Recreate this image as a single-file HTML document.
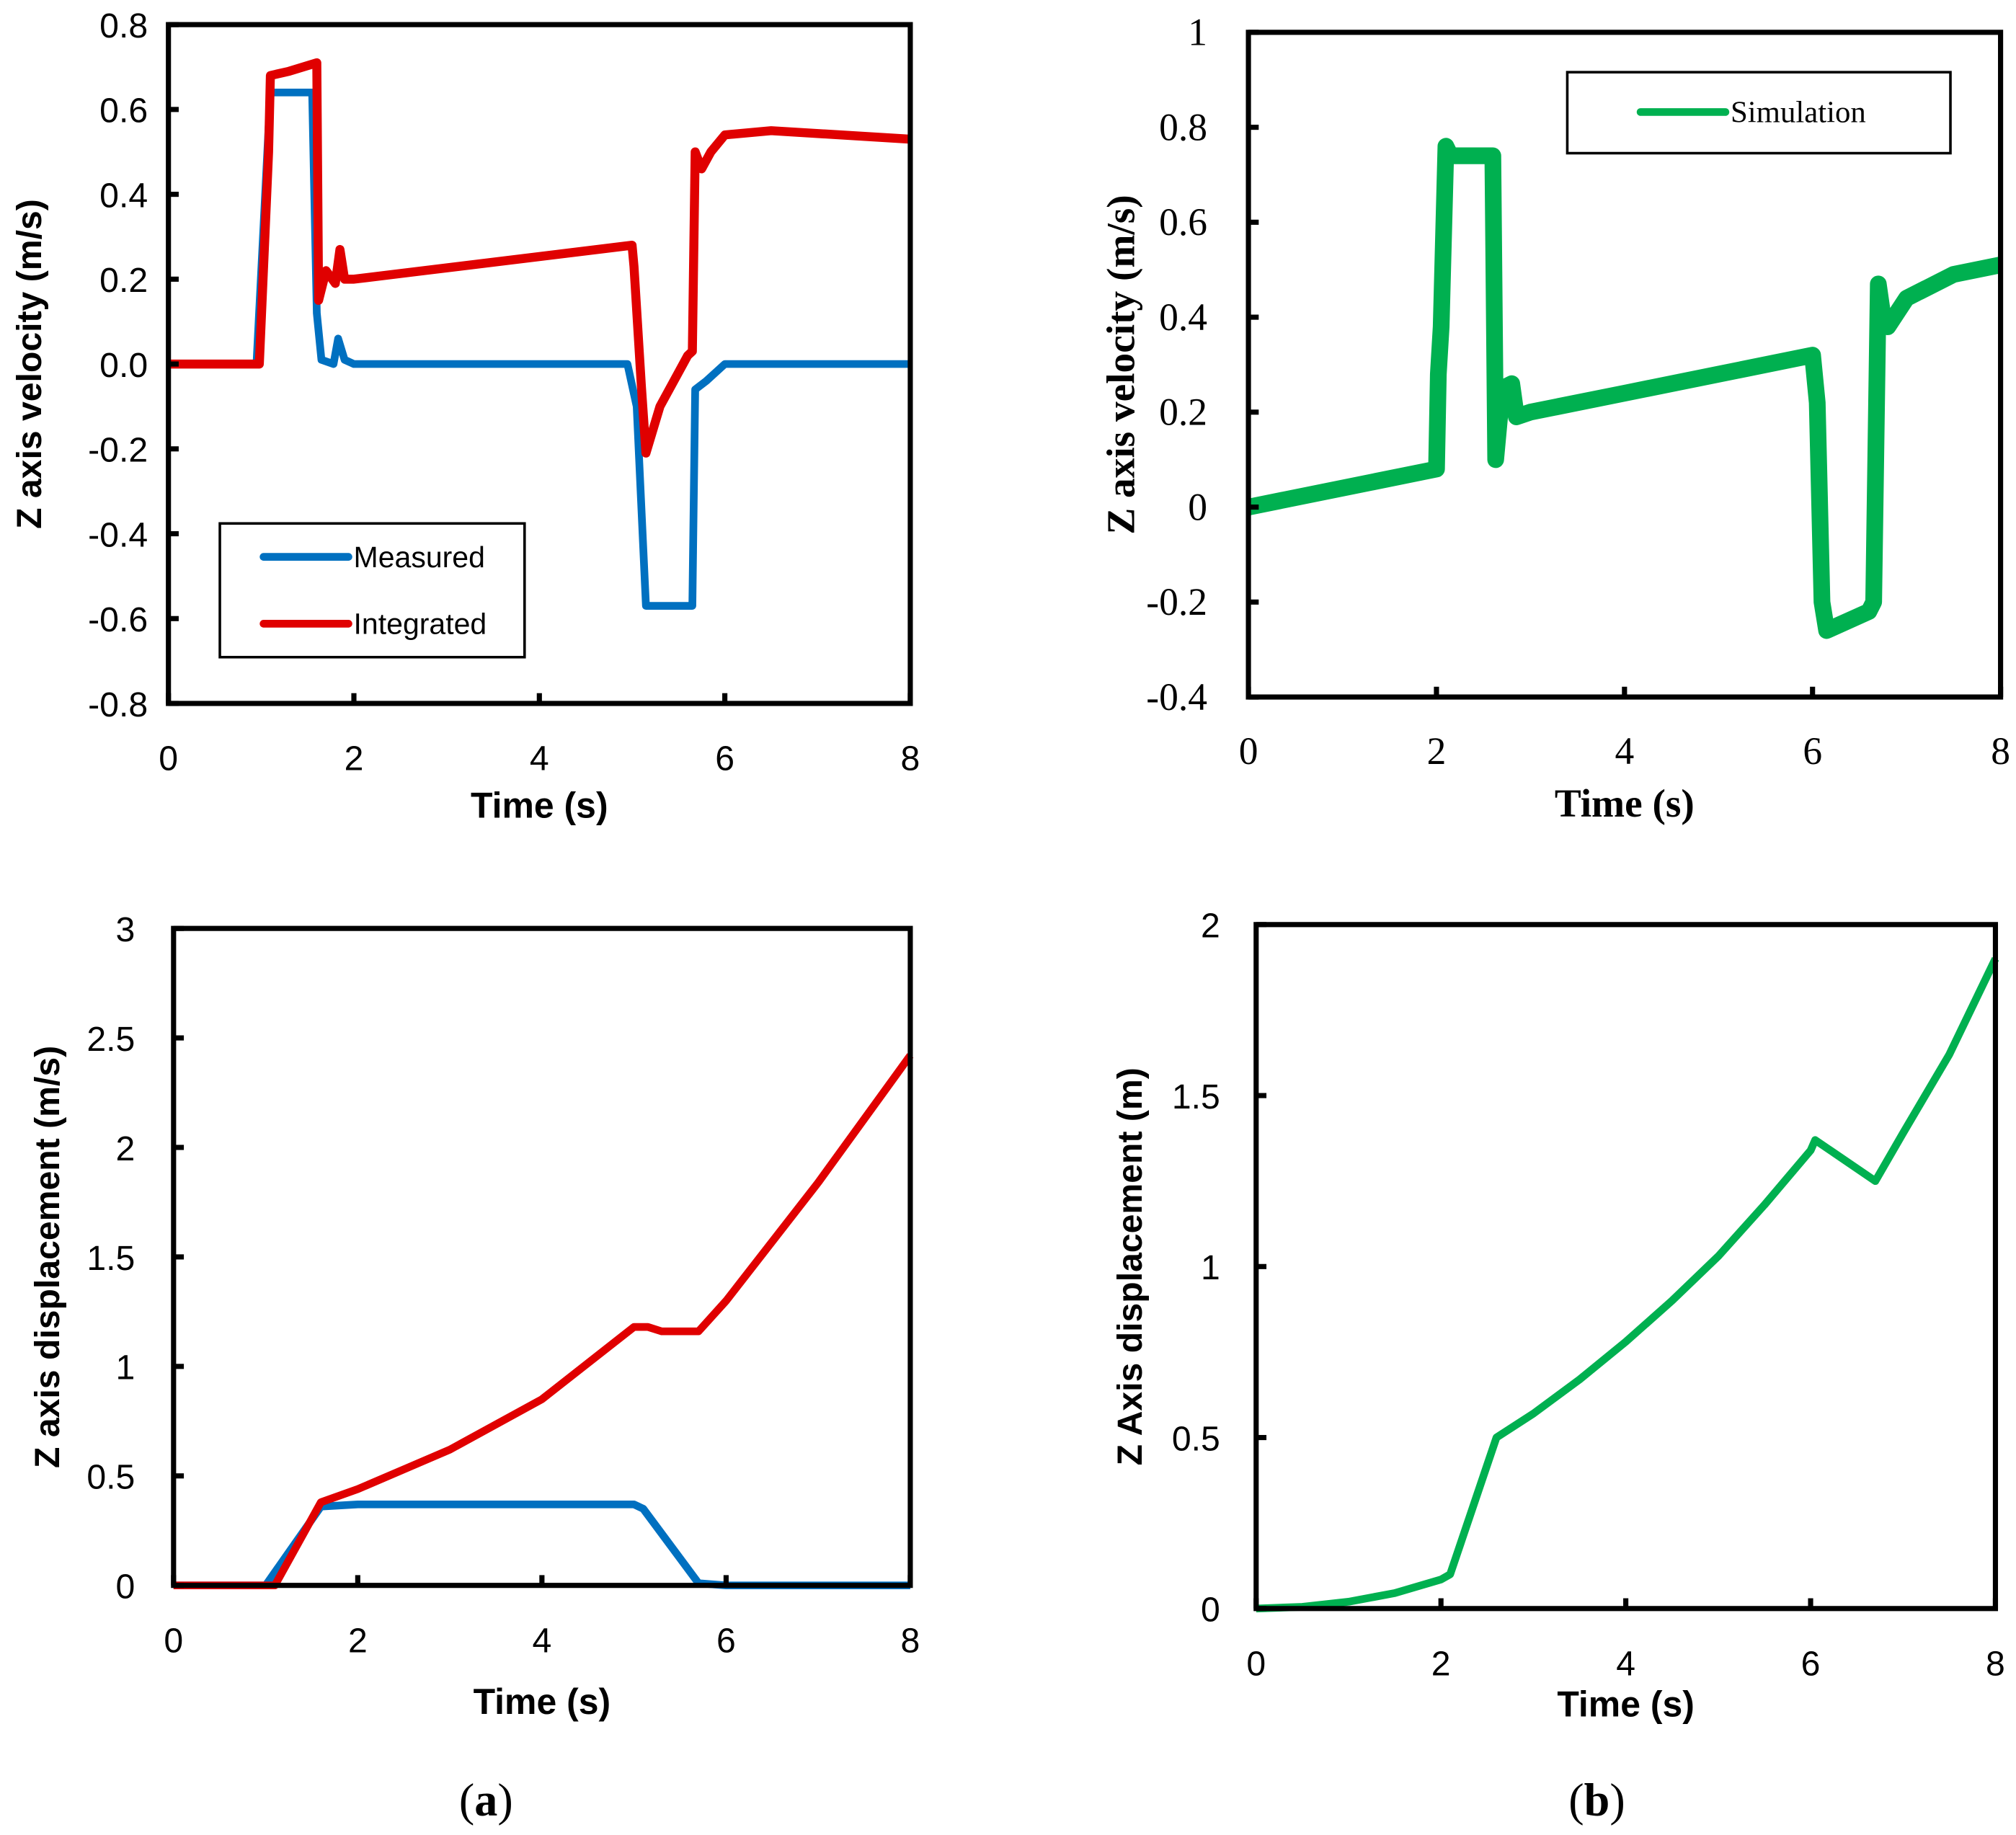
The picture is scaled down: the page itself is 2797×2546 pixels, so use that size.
<!DOCTYPE html>
<html><head><meta charset="utf-8"><style>
html,body{margin:0;padding:0;background:#fff;}
svg{display:block;}
</style></head><body>
<svg id="fig" width="2797" height="2546" viewBox="0 0 1568 1427" xmlns="http://www.w3.org/2000/svg"></svg>
<script>
// ---- data ----
const velMeasT=[0,0.95,1.1,1.55,1.6,1.65,1.78,1.83,1.9,2,4.95,5.05,5.15,5.45,5.65,5.68,5.8,6,8];
const velMeasV=[0,0,0.64,0.64,0.12,0.01,0,0.06,0.01,0,0,-0.1,-0.57,-0.57,-0.57,-0.06,-0.04,0,0];
const velIntT=[0,0.98,1.08,1.1,1.3,1.6,1.62,1.7,1.8,1.85,1.9,2,5,5.02,5.1,5.15,5.3,5.6,5.65,5.68,5.75,5.85,6.0,6.5,8];
const velIntV=[0,0,0.5,0.68,0.69,0.71,0.15,0.22,0.19,0.27,0.2,0.2,0.28,0.23,-0.05,-0.21,-0.1,0.02,0.03,0.5,0.46,0.5,0.54,0.55,0.53];
const velSimT=[0,2,2.02,2.05,2.1,2.15,2.6,2.63,2.7,2.8,2.85,3,4,6,6.05,6.1,6.15,6.6,6.65,6.7,6.75,6.8,7,7.5,8];
const velSimV=[0,0.08,0.28,0.38,0.76,0.74,0.74,0.1,0.25,0.26,0.19,0.2,0.24,0.32,0.22,-0.2,-0.26,-0.22,-0.2,0.47,0.4,0.38,0.44,0.49,0.51];
const dispMeasT=[0,1,1.6,2,5,5.1,5.7,6,8];
const dispMeasV=[0,0,0.36,0.37,0.37,0.35,0.01,0,0];
const dispIntT=[0,1.1,1.6,2,3,4,5,5.15,5.3,5.7,6,7,8];
const dispIntV=[0,0,0.38,0.44,0.62,0.85,1.18,1.18,1.16,1.16,1.3,1.84,2.42];
const dispSimT=[0,0.5,1,1.5,2,2.1,2.6,3,3.5,4,4.5,5,5.5,6,6.05,6.7,7,7.5,8];
const dispSimV=[0,0.005,0.02,0.045,0.085,0.1,0.5,0.57,0.67,0.78,0.9,1.03,1.18,1.34,1.37,1.25,1.39,1.62,1.9];
const xTicks=[0,2,4,6,8];
const yTicksA=["-0.8","-0.6","-0.4","-0.2","0.0","0.2","0.4","0.6","0.8"];
const yTicksB=["-0.4","-0.2","0","0.2","0.4","0.6","0.8","1"];
const yTicksC=["0","0.5","1","1.5","2","2.5","3"];
const yTicksD=["0","0.5","1","1.5","2"];

const NS="http://www.w3.org/2000/svg";
const svg=document.getElementById('fig');
function mk(tag,attrs,parent){const e=document.createElementNS(NS,tag);for(const k in attrs)e.setAttribute(k,attrs[k]);(parent||svg).appendChild(e);return e;}

function panel(cfg){
  const g=mk('g',{});
  
  
  const {x0,x1,y0,y1,ymin,ymax}=cfg;
  const sx=t=>x0+(t-0)/8*(x1-x0);
  const sy=v=>y1-(v-ymin)/(ymax-ymin)*(y1-y0);
  const font=cfg.serif?'"Liberation Serif",serif':'"Liberation Sans",sans-serif';
  const fs=cfg.serif?30:27;
  cfg.series.forEach(s=>{
    const d=s.t.map((t,i)=>(i?'L':'M')+sx(t).toFixed(1)+' '+sy(s.v[i]).toFixed(1)).join(' ');
    const p=mk('path',{d:d,fill:'none',stroke:s.color,'stroke-width':s.w,'stroke-linejoin':'round'},g);
    
    
  });
  const box=mk('rect',{x:x0,y:y0,width:x1-x0,height:y1-y0,fill:'none',stroke:'#000','stroke-width':4},g);
  
  
  xTicks.forEach(t=>{
    mk('line',{x1:sx(t),x2:sx(t),y1:y1,y2:y1-8,stroke:'#000','stroke-width':4},g);
    const tx=mk('text',{x:sx(t),y:y1+52,'text-anchor':'middle','font-size':fs,'font-family':font},g);
    tx.textContent=t;
    
    
  });
  const n=cfg.yt.length;
  cfg.yt.forEach((lab,i)=>{
    const v=ymin+(ymax-ymin)*i/(n-1);
    mk('line',{x1:x0,x2:x0+8,y1:sy(v),y2:sy(v),stroke:'#000','stroke-width':4},g);
    const tx=mk('text',{x:x0-cfg.ylOff,y:sy(v)+10,'text-anchor':'end','font-size':fs,'font-family':font},g);
    tx.textContent=lab;
    
    
  });
  const tf=cfg.serif?'"Liberation Serif",serif':'"Liberation Sans",sans-serif';
  const xt=mk('text',{x:(x0+x1)/2,y:y1+cfg.xtOff,'text-anchor':'middle','font-size':cfg.serif?31:28,'font-weight':'bold','font-family':tf},g);
  xt.textContent='Time (s)';
  
  
  const yx=cfg.ytx, yy=(y0+y1)/2;
  const yt=mk('text',{x:yx,y:yy,'text-anchor':'middle','font-size':cfg.serif?31:27,'font-weight':'bold','font-family':tf,transform:`rotate(-90 ${yx} ${yy})`},g);
  yt.textContent=cfg.ytitle;
  
  
  return g;
}

panel({name:'velocity-chart-a',x0:131,x1:708,y0:19,y1:547,ymin:-0.8,ymax:0.8,yt:yTicksA,ylOff:16,ytx:32,xtOff:89,ytitle:'Z axis velocity (m/s)',
  series:[{name:'measured-velocity-line',t:velMeasT,v:velMeasV,color:'#0070C0',w:6},{name:'integrated-velocity-line',t:velIntT,v:velIntV,color:'#E00000',w:7}]});
panel({name:'velocity-chart-b',x0:971,x1:1556,y0:25,y1:542,ymin:-0.4,ymax:1,yt:yTicksB,ylOff:32,ytx:882,xtOff:93,ytitle:'Z axis velocity (m/s)',serif:true,
  series:[{name:'simulation-velocity-line',t:velSimT,v:velSimV,color:'#00B050',w:13}]});
panel({name:'displacement-chart-a',x0:135,x1:708,y0:722,y1:1233,ymin:0,ymax:3,yt:yTicksC,ylOff:30,ytx:46,xtOff:100,ytitle:'Z axis displacement (m/s)',
  series:[{name:'measured-displacement-line',t:dispMeasT,v:dispMeasV,color:'#0070C0',w:6},{name:'integrated-displacement-line',t:dispIntT,v:dispIntV,color:'#E00000',w:6}]});
panel({name:'displacement-chart-b',x0:977,x1:1552,y0:719,y1:1251,ymin:0,ymax:2,yt:yTicksD,ylOff:28,ytx:888,xtOff:84,ytitle:'Z Axis displacement (m)',
  series:[{name:'simulation-displacement-line',t:dispSimT,v:dispSimV,color:'#00B050',w:6}]});

function legend(name,x,y,w,h,items,serif){
  const g=mk('g',{});
  
  
  mk('rect',{x:x,y:y,width:w,height:h,fill:'#fff',stroke:'#000','stroke-width':2},g);
  items.forEach(it=>{
    const e=mk('g',{},g);
    
    
    mk('line',{x1:it.lx,x2:it.lx+66,y1:it.y,y2:it.y,stroke:it.c,'stroke-width':6,'stroke-linecap':'round'},e);
    const t=mk('text',{x:it.lx+70,y:it.y+8,'font-size':serif?24:23,'font-family':serif?'"Liberation Serif",serif':'"Liberation Sans",sans-serif'},e);
    t.textContent=it.label;
  });
}
legend('legend-a',171,407,237,104,[{lx:205,y:433,c:'#0070C0',label:'Measured'},{lx:205,y:485,c:'#E00000',label:'Integrated'}]);
legend('legend-b',1219,56,298,63,[{lx:1276,y:87,c:'#00B050',label:'Simulation'}],true);

[['panel-label-a',378,'a'],['panel-label-b',1242,'b']].forEach(p=>{
  const t=mk('text',{x:p[1],y:1412,'text-anchor':'middle','font-size':36,'font-family':'"Liberation Serif",serif'});
  
  
  const a=document.createElementNS(NS,'tspan');a.textContent='(';t.appendChild(a);
  const b=document.createElementNS(NS,'tspan');b.setAttribute('font-weight','bold');b.textContent=p[2];t.appendChild(b);
  const c=document.createElementNS(NS,'tspan');c.textContent=')';t.appendChild(c);
});
</script>
</body></html>
